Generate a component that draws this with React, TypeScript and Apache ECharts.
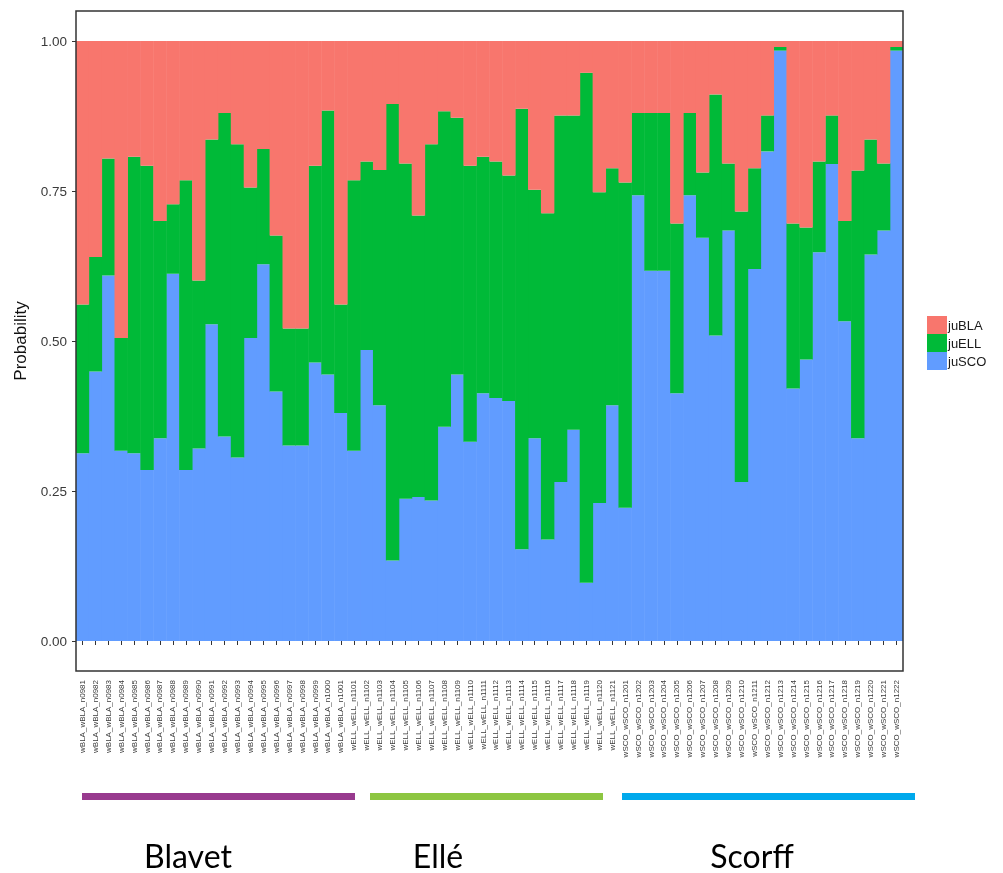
import React, { useEffect, useRef } from "react";
import * as echarts from "echarts";

const categories = [
  "wBLA_wBLA_n0981", "wBLA_wBLA_n0982", "wBLA_wBLA_n0983", "wBLA_wBLA_n0984", "wBLA_wBLA_n0985",
  "wBLA_wBLA_n0986", "wBLA_wBLA_n0987", "wBLA_wBLA_n0988", "wBLA_wBLA_n0989", "wBLA_wBLA_n0990",
  "wBLA_wBLA_n0991", "wBLA_wBLA_n0992", "wBLA_wBLA_n0993", "wBLA_wBLA_n0994", "wBLA_wBLA_n0995",
  "wBLA_wBLA_n0996", "wBLA_wBLA_n0997", "wBLA_wBLA_n0998", "wBLA_wBLA_n0999", "wBLA_wBLA_n1000",
  "wBLA_wBLA_n1001",
  "wELL_wELL_n1101", "wELL_wELL_n1102", "wELL_wELL_n1103", "wELL_wELL_n1104", "wELL_wELL_n1105",
  "wELL_wELL_n1106", "wELL_wELL_n1107", "wELL_wELL_n1108", "wELL_wELL_n1109", "wELL_wELL_n1110",
  "wELL_wELL_n1111", "wELL_wELL_n1112", "wELL_wELL_n1113", "wELL_wELL_n1114", "wELL_wELL_n1115",
  "wELL_wELL_n1116", "wELL_wELL_n1117", "wELL_wELL_n1118", "wELL_wELL_n1119", "wELL_wELL_n1120",
  "wELL_wELL_n1121",
  "wSCO_wSCO_n1201", "wSCO_wSCO_n1202", "wSCO_wSCO_n1203", "wSCO_wSCO_n1204", "wSCO_wSCO_n1205",
  "wSCO_wSCO_n1206", "wSCO_wSCO_n1207", "wSCO_wSCO_n1208", "wSCO_wSCO_n1209", "wSCO_wSCO_n1210",
  "wSCO_wSCO_n1211", "wSCO_wSCO_n1212", "wSCO_wSCO_n1213", "wSCO_wSCO_n1214", "wSCO_wSCO_n1215",
  "wSCO_wSCO_n1216", "wSCO_wSCO_n1217", "wSCO_wSCO_n1218", "wSCO_wSCO_n1219", "wSCO_wSCO_n1220",
  "wSCO_wSCO_n1221", "wSCO_wSCO_n1222",
];

const juSCO = [
  0.313, 0.449, 0.609, 0.317, 0.313, 0.285, 0.338, 0.612, 0.285, 0.321,
  0.528, 0.341, 0.306, 0.505, 0.628, 0.416, 0.326, 0.326, 0.464, 0.444,
  0.380, 0.317, 0.485, 0.393, 0.134, 0.237, 0.240, 0.234, 0.357, 0.444,
  0.332, 0.413, 0.405, 0.400, 0.153, 0.338, 0.169, 0.265, 0.352, 0.097,
  0.230, 0.393, 0.222, 0.743, 0.617, 0.617, 0.413, 0.743, 0.672, 0.509,
  0.684, 0.265, 0.620, 0.816, 0.984, 0.421, 0.469, 0.648, 0.795, 0.533,
  0.338, 0.644, 0.684, 0.984,
];

const juELL = [
  0.248, 0.191, 0.195, 0.188, 0.494, 0.507, 0.362, 0.116, 0.483, 0.280,
  0.308, 0.539, 0.522, 0.251, 0.192, 0.260, 0.195, 0.195, 0.328, 0.440,
  0.181, 0.451, 0.314, 0.392, 0.761, 0.559, 0.469, 0.594, 0.526, 0.428,
  0.460, 0.394, 0.394, 0.376, 0.734, 0.414, 0.544, 0.611, 0.524, 0.850,
  0.518, 0.395, 0.542, 0.137, 0.263, 0.263, 0.283, 0.137, 0.109, 0.402,
  0.112, 0.451, 0.168, 0.060, 0.006, 0.275, 0.220, 0.151, 0.081, 0.167,
  0.446, 0.192, 0.112, 0.006,
];

const juBLA = [
  0.439, 0.360, 0.196, 0.495, 0.193, 0.208, 0.300, 0.272, 0.232, 0.399,
  0.164, 0.120, 0.172, 0.244, 0.180, 0.324, 0.479, 0.479, 0.208, 0.116,
  0.439, 0.232, 0.201, 0.215, 0.105, 0.204, 0.291, 0.172, 0.117, 0.128,
  0.208, 0.193, 0.201, 0.224, 0.113, 0.248, 0.287, 0.124, 0.124, 0.053,
  0.252, 0.212, 0.236, 0.120, 0.120, 0.120, 0.304, 0.120, 0.219, 0.089,
  0.204, 0.284, 0.212, 0.124, 0.010, 0.304, 0.311, 0.201, 0.124, 0.300,
  0.216, 0.164, 0.204, 0.010,
];

const yTicks = [0, 0.25, 0.5, 0.75, 1];
const legendNames = ["juBLA", "juELL", "juSCO"];
const groupNames = ["Blavet", "Ellé", "Scorff"];

const FONT = "Liberation Sans, Arial, sans-serif";
const COLORS = { juSCO: "#619CFF", juELL: "#00BA38", juBLA: "#F8766D" };

export default function App() {
  const ref = useRef<HTMLDivElement>(null);

  useEffect(() => {
    if (!ref.current) return;
    const chart = echarts.init(ref.current, undefined, { renderer: "svg" });
    const gl = 76, gt = 11, gw = 827, gh = 660;
    const groupText = (x: number, text: string) => ({
      type: "text",
      x,
      y: 855,
      style: {
        text,
        fontSize: 32,
        fontFamily: "Lato, sans-serif",
        fill: "#000",
        align: "center",
        verticalAlign: "middle",
      },
    });
    const barSeries = (name: "juSCO" | "juELL" | "juBLA", data: number[]) => ({
      name,
      type: "bar",
      stack: "p",
      data,
      barWidth: "104%",
      itemStyle: { color: COLORS[name] },
    });
    chart.setOption({
      animation: false,
      textStyle: { fontFamily: FONT },
      grid: { left: gl, top: gt, width: gw, height: gh, containLabel: false },
      legend: {
        data: legendNames,
        orient: "vertical",
        left: 922,
        top: 311,
        itemWidth: 20,
        itemHeight: 18,
        itemGap: 0,
        icon: "rect",
        itemStyle: { borderWidth: 0 },
        textStyle: { fontSize: 13, color: "#1a1a1a", fontFamily: FONT, padding: [0, 0, 0, -4] },
      },
      xAxis: {
        type: "category",
        data: categories,
        boundaryGap: true,
        axisLine: { show: false },
        axisTick: { show: true, alignWithLabel: true, interval: 0, length: 4, lineStyle: { color: "#333", width: 1 } },
        axisLabel: { rotate: 90, interval: 0, fontSize: 8, color: "#3a3a3a", margin: 9, fontFamily: FONT },
        splitLine: { show: false },
      },
      yAxis: {
        type: "value",
        min: -0.05,
        max: 1.05,
        splitLine: { show: false },
        axisLine: { show: false },
        axisTick: { show: true, length: 4, customValues: yTicks, lineStyle: { color: "#333", width: 1 } },
        axisLabel: {
          customValues: yTicks,
          formatter: (v: number) => v.toFixed(2),
          fontSize: 13.5,
          color: "#3a3a3a",
          margin: 9,
          fontFamily: FONT,
        },
        name: "Probability",
        nameLocation: "middle",
        nameGap: 47,
        nameTextStyle: { fontSize: 17, color: "#111", fontFamily: FONT },
      },
      series: [
        barSeries("juSCO", juSCO),
        barSeries("juELL", juELL),
        barSeries("juBLA", juBLA),
      ],
      graphic: [
        {
          type: "rect",
          z: 100,
          silent: true,
          shape: { x: gl, y: gt, width: gw, height: gh },
          style: { fill: "none", stroke: "#333", lineWidth: 1.5 },
        },
        { type: "rect", shape: { x: 82, y: 793, width: 273, height: 7 }, style: { fill: "#983A8E" } },
        { type: "rect", shape: { x: 370, y: 793, width: 233, height: 7 }, style: { fill: "#8DC641" } },
        { type: "rect", shape: { x: 622, y: 793, width: 293, height: 7 }, style: { fill: "#00A9EC" } },
        groupText(188, groupNames[0]),
        groupText(438, groupNames[1]),
        groupText(752, groupNames[2]),
      ],
    });
    return () => chart.dispose();
  }, []);

  return (
    <div
      ref={ref}
      style={{ position: "fixed", left: 0, top: 0, width: 1003, height: 873 }}
    />
  );
}
